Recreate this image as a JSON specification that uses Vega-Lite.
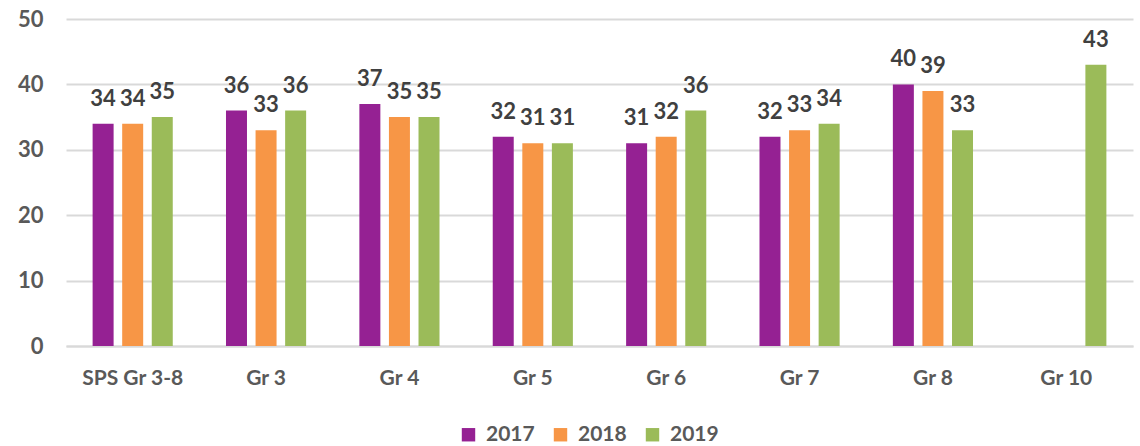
{
  "$schema": "https://vega.github.io/schema/vega-lite/v6.json",
  "width": 1067,
  "height": 327,
  "autosize": {"type": "none"},
  "padding": {"left": 66, "top": 19, "right": 7, "bottom": 100},
  "background": "white",
  "config": {
    "font": "Lato",
    "view": {"stroke": null}
  },
  "data": {
    "values": [
      {"grade": "SPS Gr 3-8", "year": "2017", "value": 34},
      {"grade": "SPS Gr 3-8", "year": "2018", "value": 34},
      {"grade": "SPS Gr 3-8", "year": "2019", "value": 35},
      {"grade": "Gr 3", "year": "2017", "value": 36},
      {"grade": "Gr 3", "year": "2018", "value": 33},
      {"grade": "Gr 3", "year": "2019", "value": 36},
      {"grade": "Gr 4", "year": "2017", "value": 37},
      {"grade": "Gr 4", "year": "2018", "value": 35},
      {"grade": "Gr 4", "year": "2019", "value": 35},
      {"grade": "Gr 5", "year": "2017", "value": 32},
      {"grade": "Gr 5", "year": "2018", "value": 31},
      {"grade": "Gr 5", "year": "2019", "value": 31},
      {"grade": "Gr 6", "year": "2017", "value": 31},
      {"grade": "Gr 6", "year": "2018", "value": 32},
      {"grade": "Gr 6", "year": "2019", "value": 36},
      {"grade": "Gr 7", "year": "2017", "value": 32},
      {"grade": "Gr 7", "year": "2018", "value": 33},
      {"grade": "Gr 7", "year": "2019", "value": 34},
      {"grade": "Gr 8", "year": "2017", "value": 40},
      {"grade": "Gr 8", "year": "2018", "value": 39},
      {"grade": "Gr 8", "year": "2019", "value": 33},
      {"grade": "Gr 10", "year": "2019", "value": 43}
    ]
  },
  "encoding": {
    "x": {
      "field": "grade",
      "type": "nominal",
      "sort": ["SPS Gr 3-8", "Gr 3", "Gr 4", "Gr 5", "Gr 6", "Gr 7", "Gr 8", "Gr 10"],
      "scale": {"paddingInner": 0, "paddingOuter": 0},
      "axis": {
        "title": null,
        "labelAngle": 0,
        "labelFontSize": 21,
        "labelFontWeight": "bold",
        "labelColor": "#595959",
        "labelPadding": 21,
        "ticks": false,
        "domainColor": "#d9d9d9",
        "domainWidth": 2,
        "grid": false
      }
    },
    "xOffset": {
      "field": "year",
      "type": "nominal",
      "scale": {"domain": ["2017", "2018", "2019"], "paddingInner": 0.29, "paddingOuter": 0.9}
    },
    "y": {
      "field": "value",
      "type": "quantitative",
      "scale": {"domain": [0, 50]},
      "axis": {
        "title": null,
        "values": [0, 10, 20, 30, 40, 50],
        "labelFontSize": 22,
        "labelFontWeight": "bold",
        "labelColor": "#595959",
        "labelPadding": 23,
        "ticks": false,
        "domain": false,
        "gridColor": "#d9d9d9",
        "gridWidth": 2
      }
    }
  },
  "layer": [
    {
      "mark": {"type": "bar"},
      "encoding": {
        "color": {
          "field": "year",
          "type": "nominal",
          "scale": {"domain": ["2017", "2018", "2019"], "range": ["#952193", "#F79646", "#9BBB59"]},
          "legend": {
            "title": null,
            "orient": "none",
            "legendX": 392,
            "legendY": 405,
            "direction": "horizontal",
            "symbolType": "square",
            "symbolSize": 180,
            "symbolStrokeWidth": 0,
            "labelFontSize": 21,
            "labelFontWeight": "bold",
            "labelColor": "#595959",
            "labelOffset": 7,
            "columnPadding": 15
          }
        }
      }
    },
    {
      "mark": {"type": "text", "baseline": "alphabetic", "dy": -18, "fontSize": 22, "fontWeight": "bold", "color": "#404040"},
      "encoding": {
        "text": {"field": "value", "type": "quantitative"}
      }
    }
  ]
}
